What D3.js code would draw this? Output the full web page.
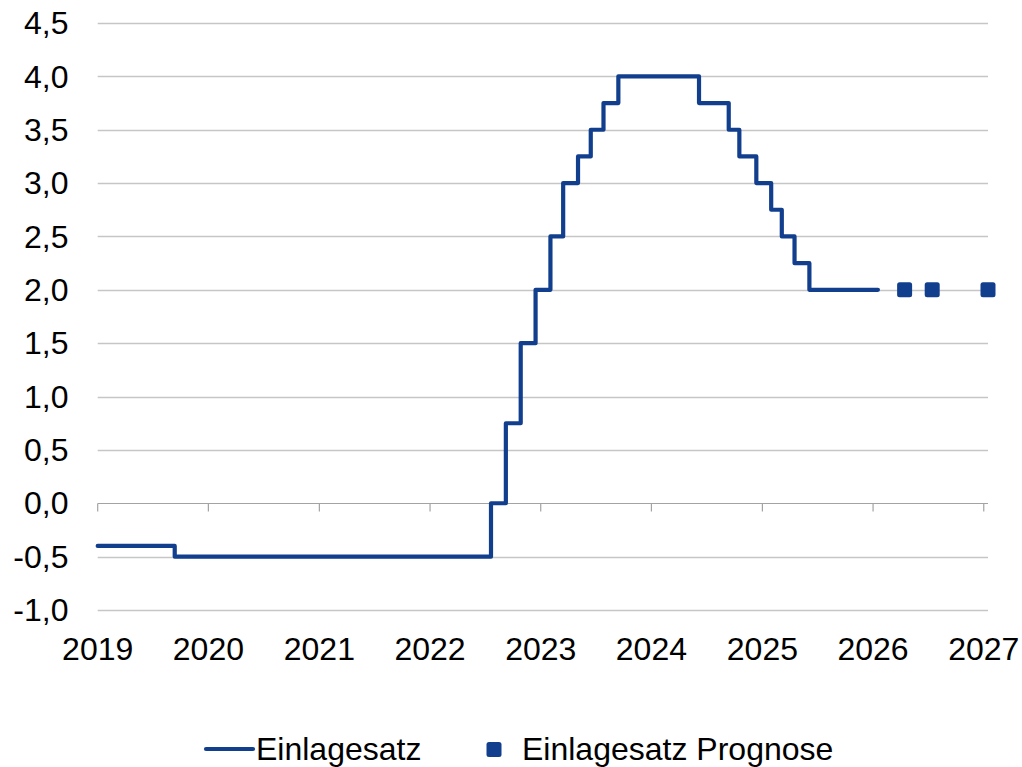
<!DOCTYPE html>
<html>
<head>
<meta charset="utf-8">
<script src="https://cdn.jsdelivr.net/npm/d3@7"></script>
<style>
  html, body { margin: 0; padding: 0; background: #fff; }
  svg { display: block; font-family: "Liberation Sans", Arial, sans-serif; }
</style>
</head>
<body>
<svg id="chart" width="1022" height="767"></svg>
<script>
// Policy rate decisions (announcement dates) and values
const rateDates = ["2019-01-01","2019-09-12","2022-07-21","2022-09-08","2022-10-27","2022-12-15",
  "2023-02-02","2023-03-16","2023-05-04","2023-06-15","2023-07-27","2023-09-14",
  "2024-06-06","2024-09-12","2024-10-17","2024-12-12","2025-01-30","2025-03-06",
  "2025-04-17","2025-06-05","2026-01-17"];
const rateValues = [-0.4,-0.5,0.0,0.75,1.5,2.0,2.5,3.0,3.25,3.5,3.75,4.0,
  3.75,3.5,3.25,3.0,2.75,2.5,2.25,2.0,2.0];
// Forecast points
const forecastDates = ["2026-04-15","2026-07-15","2027-01-15"];
const forecastValues = [2.0, 2.0, 2.0];
// Axis ticks
const yTicks = [-1.0,-0.5,0,0.5,1.0,1.5,2.0,2.5,3.0,3.5,4.0,4.5];
const xTickYears = [2019,2020,2021,2022,2023,2024,2025,2026,2027];
const seriesNames = ["Einlagesatz","Einlagesatz Prognose"];

(function () {
const parse = d3.utcParse("%Y-%m-%d");
const lineData = rateDates.map((d,i)=>({date: parse(d), value: rateValues[i]}));
const fcData = forecastDates.map((d,i)=>({date: parse(d), value: forecastValues[i]}));

const color = "#123f8d";
const svg = d3.select("#chart");
const pLeft = 97.7, pRight = 988, pTop = 23, pBottom = 610;

const x = d3.scaleUtc().domain([parse("2019-01-01"), parse("2027-01-15")]).range([pLeft, pRight]);
const y = d3.scaleLinear().domain([-1.0, 4.5]).range([pBottom, pTop]);
const fmt = v => d3.format(".1f")(v).replace(".", ",").replace("\u2212","-");

// gridlines
svg.append("g").selectAll("line").data(yTicks.filter(v => v !== 0)).join("line")
  .attr("x1", pLeft).attr("x2", pRight)
  .attr("y1", d => Math.round(y(d)) + 0.5).attr("y2", d => Math.round(y(d)) + 0.5)
  .attr("stroke", "#c6c6c6").attr("stroke-width", 1.4);

// y labels
svg.append("g").selectAll("text").data(yTicks).join("text")
  .attr("x", 68.5).attr("y", d => y(d)).attr("dy", "0.35em")
  .attr("text-anchor", "end").attr("font-size", 32).attr("fill", "#000")
  .text(fmt);

// x axis along zero
const y0 = Math.round(y(0)) + 0.5;
svg.append("line").attr("x1", pLeft).attr("x2", pRight).attr("y1", y0).attr("y2", y0)
  .attr("stroke", "#a3a3a3").attr("stroke-width", 1.2);
const xTickDates = xTickYears.map(yr => parse(yr + "-01-01"));
svg.append("g").selectAll("line").data(xTickDates).join("line")
  .attr("x1", d => x(d)).attr("x2", d => x(d)).attr("y1", y0).attr("y2", y0 + 8)
  .attr("stroke", "#a3a3a3").attr("stroke-width", 1.2);
svg.append("g").selectAll("text").data(xTickYears).join("text")
  .attr("x", (d,i) => x(xTickDates[i])).attr("y", 660)
  .attr("text-anchor", "middle").attr("font-size", 32).attr("fill", "#000")
  .text(d => d);

// step line
const line = d3.line().x(d => x(d.date)).y(d => y(d.value)).curve(d3.curveStepAfter);
svg.append("path").datum(lineData).attr("d", line)
  .attr("fill", "none").attr("stroke", color).attr("stroke-width", 4.2)
  .attr("stroke-linejoin", "round").attr("stroke-linecap", "round");

// forecast squares
const sq = 15;
svg.append("g").selectAll("rect").data(fcData).join("rect")
  .attr("x", d => x(d.date) - sq/2).attr("y", d => y(d.value) - sq/2)
  .attr("width", sq).attr("height", sq).attr("rx", 2.5).attr("fill", color);

// legend
const lg = svg.append("g");
const ly = 749;
lg.append("line").attr("x1", 206).attr("x2", 253).attr("y1", ly).attr("y2", ly)
  .attr("stroke", color).attr("stroke-width", 4.2).attr("stroke-linecap", "round");
lg.append("text").attr("x", 256).attr("y", ly).attr("dy", "0.35em")
  .attr("font-size", 32).attr("fill", "#000").text(seriesNames[0]);
lg.append("rect").attr("x", 494 - sq/2).attr("y", ly - sq/2 + 0.5).attr("width", sq).attr("height", sq)
  .attr("rx", 2.5).attr("fill", color);
lg.append("text").attr("x", 522).attr("y", ly).attr("dy", "0.35em")
  .attr("font-size", 32).attr("fill", "#000").text(seriesNames[1]);
})();
</script>
</body>
</html>
